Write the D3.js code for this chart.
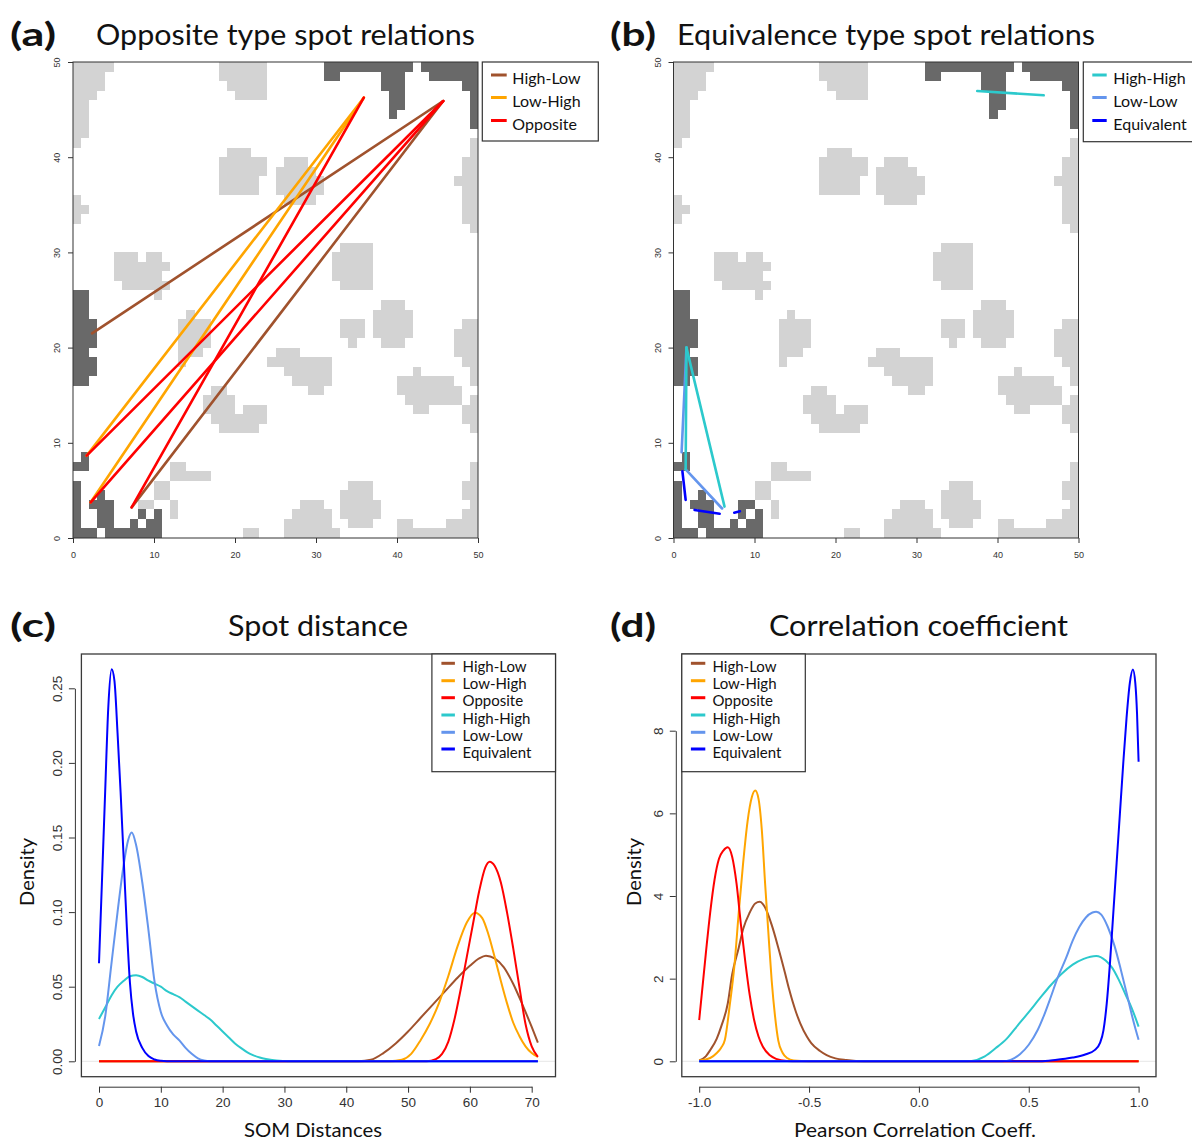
<!DOCTYPE html>
<html>
<head>
<meta charset="utf-8">
<script src="https://cdn.jsdelivr.net/npm/d3@7"></script>
<style>
body { margin: 0; background: #fff; }
text { font-family: Lato, "Open Sans", sans-serif; fill: #111; }
.tick text { font-family: "Liberation Sans", Arial, sans-serif; fill: #333; }
</style>
</head>
<body>
<div id="chart"></div>
<script>

// SOM background map, runs of cells: [row, firstCol, lastCol]
const lightRuns = [
  [49,0,4],[48,0,3],[47,0,3],[46,0,2],[45,0,1],[44,0,1],[43,0,1],[42,0,1],[41,0,0],
  [49,18,23],[48,18,23],[47,19,23],[46,20,23],
  [40,19,21],[39,18,23],[38,18,23],[37,18,22],[36,18,22],
  [39,26,28],[38,25,29],[37,25,30],[36,25,30],[35,26,29],
  [35,0,0],[34,0,1],[33,0,0],
  [41,49,49],[40,49,49],[39,48,49],[38,48,49],[37,47,49],[36,48,49],[35,48,49],[34,48,49],[33,48,49],[32,49,49],
  [29,5,7],[29,9,10],[28,5,11],[27,5,10],[26,6,11],[25,10,10],
  [30,33,36],[29,32,36],[28,32,36],[27,32,36],[26,33,36],
  [24,38,40],[23,37,41],[22,37,41],[21,37,41],[20,38,40],
  [22,33,35],[21,33,35],[20,34,34],
  [23,14,14],[22,13,16],[21,13,16],[20,13,16],[19,13,15],[18,13,13],
  [19,25,27],[18,24,31],[17,26,31],[16,27,31],[15,29,30],
  [17,42,42],[16,40,46],[15,40,47],[14,41,47],[13,42,43],
  [22,48,49],[21,47,49],[20,47,49],[19,47,49],[18,48,49],[17,49,49],[16,49,49],
  [14,49,49],[13,48,49],[12,48,49],[11,49,49],
  [15,17,18],[14,16,19],[13,16,19],[13,21,23],[12,17,23],[11,18,22],
  [7,12,13],[6,12,16],[5,10,11],[4,10,11],[3,12,12],[2,12,12],
  [0,21,22],
  [3,28,30],[2,27,31],[1,26,31],[0,26,32],
  [5,34,36],[4,33,36],[3,33,37],[2,33,37],[1,34,36],
  [7,49,49],[6,49,49],[5,48,49],[4,48,49],[3,49,49],[2,48,49],[1,40,41],[1,46,49],[0,40,49]
];
const darkRuns = [
  [49,31,41],[49,43,49],[48,31,32],[48,38,40],[48,44,49],[47,38,40],[47,48,49],
  [46,39,40],[46,49,49],[45,39,40],[45,49,49],[44,39,39],[44,49,49],[43,49,49],
  [25,0,1],[24,0,1],[23,0,1],[22,0,2],[21,0,2],[20,0,2],[19,0,1],[18,0,2],[17,0,2],[16,0,1],
  [8,1,1],[7,0,1],[5,0,0],[4,0,0],[4,3,3],[3,0,0],[3,2,4],[2,0,0],[2,3,4],[2,8,8],[2,10,10],
  [1,0,0],[1,3,4],[1,7,7],[1,9,10],[0,0,2],[0,4,10]
];
const lightOnlyA = [[3,8,9]];
const darkOnlyB = [[3,8,9]];

// spot pairs: [type, x1, y1, x2, y2] in map units
const oppositeLinks = [
  ["High-Low", 2.35, 21.5, 45.7, 45.9],
  ["High-Low", 7.24, 3.22, 45.7, 45.9],
  ["Low-High", 1.69, 8.65, 35.9, 46.25],
  ["Low-High", 2.18, 3.75, 35.9, 46.25],
  ["Opposite", 1.69, 8.65, 45.7, 45.9],
  ["Opposite", 2.18, 3.75, 45.7, 45.9],
  ["Opposite", 7.24, 3.22, 35.9, 46.25]
];
const equivLinks = [
  ["High-High", 37.5, 46.95, 45.7, 46.5],
  ["Low-Low", 1.0, 9.0, 1.6, 20.0],
  ["Low-Low", 1.5, 7.2, 6.0, 3.1],
  ["High-High", 1.6, 20.0, 1.5, 7.2],
  ["High-High", 1.6, 20.0, 6.3, 3.3],
  ["Equivalent", 1.1, 7.0, 1.5, 4.0],
  ["Equivalent", 2.6, 2.95, 5.7, 2.55],
  ["Equivalent", 7.5, 2.65, 8.2, 2.8]
];

const typeNames = ["High-Low", "Low-High", "Opposite", "High-High", "Low-Low", "Equivalent"];
const typeColors = ["#A0522D", "#FFA500", "#FF0000", "#2CC9CC", "#6495ED", "#0000FF"];

// density of SOM distances
const distHighLow = [[0,0],[42,0],[44,0.001],[46,0.0055],[48,0.012],[50,0.02],[52,0.029],[54,0.038],[56,0.047],[58,0.056],[60,0.064],[61.5,0.069],[62.6,0.0708],[64,0.069],[65.5,0.063],[67,0.052],[68.5,0.038],[70,0.023],[71,0.0125]];
const distLowHigh = [[0,0],[47,0],[49,0.001],[50.5,0.005],[52,0.014],[53.5,0.025],[55,0.039],[56.5,0.057],[58,0.077],[59.5,0.093],[60.8,0.0996],[62,0.096],[63,0.085],[64,0.07],[65,0.054],[66,0.039],[67,0.026],[68,0.017],[69,0.01],[70,0.0055],[71,0.003]];
const distOpposite = [[0,0],[53,0],[54.5,0.0015],[55.5,0.005],[56.5,0.013],[57.5,0.028],[58.5,0.048],[59.5,0.07],[60.5,0.092],[61.5,0.114],[62.5,0.13],[63.2,0.1338],[64,0.131],[65,0.12],[66,0.1],[67,0.076],[68,0.05],[69,0.025],[70,0.01],[71,0.003]];
const distHighHigh = [[0,0.0284],[1,0.036],[2,0.044],[3,0.05],[4,0.054],[5,0.057],[6,0.0576],[7,0.0565],[8,0.054],[9,0.052],[10,0.05],[11,0.047],[12,0.045],[13,0.043],[14,0.04],[15,0.037],[16,0.034],[17,0.031],[18,0.028],[19,0.024],[20,0.02],[21,0.016],[22,0.012],[23,0.0088],[24,0.006],[25,0.004],[26,0.0025],[27,0.0015],[28,0.0008],[30,0.0002],[32,0],[71,0]];
const distLowLow = [[0,0.0103],[1,0.03],[2,0.065],[3,0.1],[4,0.132],[4.7,0.148],[5.3,0.1533],[6,0.145],[7,0.12],[8,0.088],[9,0.053],[10,0.033],[11,0.024],[12,0.018],[13,0.014],[14,0.009],[15,0.005],[16,0.002],[17,0.0005],[18,0],[71,0]];
const distEquivalent = [[0,0.0657],[0.5,0.123],[1,0.181],[1.5,0.237],[2.05,0.2627],[2.5,0.255],[3,0.22],[3.5,0.18],[4,0.135],[4.5,0.09],[5,0.053],[5.5,0.032],[6,0.02],[7,0.009],[8,0.0035],[9,0.0012],[10,0.0003],[11,0],[71,0]];

// density of Pearson correlation coefficients
const corrHighLow = [[-1,0.02],[-0.97,0.12],[-0.95,0.27],[-0.92,0.55],[-0.9,0.84],[-0.87,1.4],[-0.85,2.1],[-0.82,2.75],[-0.8,3.2],[-0.77,3.6],[-0.745,3.82],[-0.724,3.86],[-0.7,3.72],[-0.67,3.3],[-0.64,2.75],[-0.61,2.15],[-0.59,1.73],[-0.56,1.2],[-0.54,0.92],[-0.51,0.6],[-0.49,0.44],[-0.45,0.25],[-0.42,0.15],[-0.38,0.07],[-0.33,0.03],[-0.25,0],[1,0]];
const corrLowHigh = [[-1,0.02],[-0.95,0.08],[-0.92,0.2],[-0.9,0.33],[-0.883,0.52],[-0.86,1.4],[-0.84,2.3],[-0.82,3.6],[-0.8,4.8],[-0.78,5.8],[-0.76,6.4],[-0.745,6.55],[-0.73,6.35],[-0.715,5.6],[-0.7,4.3],[-0.685,3.1],[-0.67,1.95],[-0.655,1.1],[-0.64,0.5],[-0.62,0.2],[-0.6,0.08],[-0.57,0.02],[-0.5,0],[1,0]];
const corrOpposite = [[-1,1.0],[-0.97,2.6],[-0.95,3.6],[-0.93,4.4],[-0.91,4.9],[-0.89,5.1],[-0.87,5.18],[-0.85,4.95],[-0.83,4.3],[-0.81,3.3],[-0.79,2.4],[-0.77,1.6],[-0.75,1.0],[-0.73,0.6],[-0.71,0.35],[-0.68,0.15],[-0.65,0.06],[-0.6,0.01],[-0.55,0],[1,0]];
const corrHighHigh = [[-1,0],[0.2,0],[0.24,0.01],[0.3,0.12],[0.35,0.32],[0.4,0.55],[0.45,0.87],[0.5,1.19],[0.55,1.52],[0.6,1.84],[0.65,2.12],[0.7,2.34],[0.75,2.48],[0.807,2.55],[0.85,2.44],[0.88,2.26],[0.91,1.97],[0.94,1.62],[0.97,1.27],[1,0.84]];
const corrLowLow = [[-1,0],[0.38,0],[0.42,0.04],[0.46,0.17],[0.5,0.4],[0.54,0.75],[0.57,1.12],[0.6,1.55],[0.63,2.0],[0.67,2.5],[0.7,2.92],[0.73,3.25],[0.76,3.48],[0.79,3.6],[0.807,3.62],[0.83,3.55],[0.86,3.25],[0.89,2.8],[0.92,2.2],[0.95,1.55],[0.975,1.0],[1,0.52]];
const corrEquivalent = [[-1,0],[0.55,0],[0.62,0.03],[0.7,0.09],[0.76,0.17],[0.8,0.27],[0.825,0.45],[0.84,0.75],[0.855,1.4],[0.87,2.4],[0.885,3.6],[0.9,4.8],[0.915,6.0],[0.93,7.2],[0.945,8.3],[0.96,9.15],[0.974,9.48],[0.985,9.15],[0.993,8.4],[1,7.25]];

const distSeries = [distHighLow, distLowHigh, distOpposite, distHighHigh, distLowLow, distEquivalent];
const corrSeries = [corrHighLow, corrLowHigh, corrOpposite, corrHighHigh, corrLowLow, corrEquivalent];

const mapTicks = [0, 10, 20, 30, 40, 50];
const distXTicks = [0, 10, 20, 30, 40, 50, 60, 70];
const distYTicks = [0, 0.05, 0.1, 0.15, 0.2, 0.25];
const corrXTicks = [-1, -0.5, 0, 0.5, 1];
const corrYTicks = [0, 2, 4, 6, 8];

const color = d3.scaleOrdinal().domain(typeNames).range(typeColors);

const svg = d3.select("#chart").append("svg")
    .attr("width", 1192)
    .attr("height", 1140);

function legend(x, y, w, h, names, lx0, lx1, tx, rows, fs) {
  let g = svg.append("g");
  g.append("rect").attr("x", x).attr("y", y).attr("width", w).attr("height", h)
    .attr("fill", "#fff").attr("stroke", "#333").attr("stroke-width", 1.2);
  names.forEach((n, i) => {
    g.append("line").attr("x1", lx0).attr("x2", lx1).attr("y1", rows[i]).attr("y2", rows[i])
      .attr("stroke", color(n)).attr("stroke-width", 3);
    g.append("text").attr("x", tx).attr("y", rows[i] + 3.5).attr("dy", "0.35em")
      .attr("font-size", fs).text(n);
  });
}

function drawMap(left, light, dark, links) {
  let x = d3.scaleLinear().domain([0, 50]).range([left, left + 405]);
  let y = d3.scaleLinear().domain([0, 50]).range([538, 62]);
  let g = svg.append("g");
  let cells = g.append("g").attr("shape-rendering", "crispEdges");
  const addRuns = (runs, fill) => cells.append("g").selectAll("rect").data(runs).enter().append("rect")
      .attr("x", d => x(d[1]))
      .attr("y", d => y(d[0] + 1))
      .attr("width", d => x(d[2] + 1) - x(d[1]))
      .attr("height", d => y(d[0]) - y(d[0] + 1))
      .attr("fill", fill);
  addRuns(light, "#d3d3d3");
  addRuns(dark, "#696969");

  g.append("g").selectAll("line").data(links).enter().append("line")
    .attr("x1", d => x(d[1])).attr("y1", d => y(d[2]))
    .attr("x2", d => x(d[3])).attr("y2", d => y(d[4]))
    .attr("stroke", d => color(d[0]))
    .attr("stroke-width", 2.6)
    .attr("stroke-linecap", "round");

  g.append("rect").attr("x", x(0)).attr("y", y(50)).attr("width", x(50) - x(0)).attr("height", y(0) - y(50))
    .attr("fill", "none").attr("stroke", "#333").attr("stroke-width", 1);

  let ax = g.append("g").attr("transform", "translate(0,538)")
    .call(d3.axisBottom(x).tickValues(mapTicks).tickSize(5).tickSizeOuter(0).tickPadding(9));
  ax.select(".domain").remove();
  ax.selectAll("text").attr("font-size", 9);
  let ay = g.append("g").attr("transform", `translate(${left},0)`)
    .call(d3.axisLeft(y).tickValues(mapTicks).tickSize(5).tickSizeOuter(0));
  ay.select(".domain").remove();
  ay.selectAll("text").attr("font-size", 9).attr("x", 0).attr("dy", 0)
    .attr("text-anchor", "middle").attr("transform", "translate(-13,0) rotate(-90)");
  g.selectAll(".tick line").attr("stroke", "#333");
}

function densityPanel(o) {
  let x = d3.scaleLinear().domain(o.xDomain).range(o.xRange);
  let y = d3.scaleLinear().domain(o.yDomain).range(o.yRange);
  let g = svg.append("g");

  g.append("line").attr("x1", o.box[0]).attr("x2", o.box[2]).attr("y1", y(0)).attr("y2", y(0))
    .attr("stroke", "#e6e6e6").attr("stroke-width", 1);

  let line = d3.line().x(d => x(d[0])).y(d => y(d[1])).curve(d3.curveMonotoneX);
  g.append("g").selectAll("path").data(o.series).enter().append("path")
    .attr("d", line)
    .attr("fill", "none")
    .attr("stroke", (d, i) => color(typeNames[i]))
    .attr("stroke-width", 2);

  g.append("rect").attr("x", o.box[0]).attr("y", o.box[1])
    .attr("width", o.box[2] - o.box[0]).attr("height", o.box[3] - o.box[1])
    .attr("fill", "none").attr("stroke", "#3a3a3a").attr("stroke-width", 1.3);

  let ax = g.append("g").attr("transform", "translate(0,1086.7)")
    .call(d3.axisBottom(x).tickValues(o.xTicks).tickSize(6).tickSizeOuter(0).tickPadding(4.5)
      .tickFormat(o.xFormat));
  ax.selectAll("text").attr("font-size", 13.5);
  let ay = g.append("g").attr("transform", `translate(${o.yAxisX},0)`)
    .call(d3.axisLeft(y).tickValues(o.yTicks).tickSize(6).tickSizeOuter(0).tickFormat(o.yFormat));
  ay.selectAll("text").attr("font-size", 13.5).attr("x", 0).attr("dy", 0)
    .attr("text-anchor", "middle").attr("transform", "translate(-12.5,0) rotate(-90)");
  g.selectAll(".domain, .tick line").attr("stroke", "#333");

  g.append("text").attr("x", o.xLabel[1]).attr("y", 1137).attr("font-size", 20)
    .attr("textLength", o.xLabel[2]).attr("lengthAdjust", "spacingAndGlyphs").text(o.xLabel[0]);
  g.append("text").attr("transform", `translate(${o.yLabelX},872) rotate(-90)`)
    .attr("text-anchor", "middle").attr("font-size", 20)
    .attr("textLength", 68).attr("lengthAdjust", "spacingAndGlyphs").text("Density");
}

function title(tag, tx, text, x, y, len) {
  svg.append("text").attr("x", tx).attr("y", y).attr("font-size", 32).attr("font-weight", "bold")
    .attr("textLength", 46).attr("lengthAdjust", "spacingAndGlyphs").text(tag);
  svg.append("text").attr("x", x).attr("y", y - 1).attr("font-size", 28)
    .attr("textLength", len).attr("lengthAdjust", "spacingAndGlyphs").text(text);
}

// (a) and (b) maps
drawMap(73, lightRuns.concat(lightOnlyA), darkRuns, oppositeLinks);
drawMap(673.5, lightRuns, darkRuns.concat(darkOnlyB), equivLinks);
legend(482.3, 62, 116, 79, typeNames.slice(0, 3), 491, 506.7, 512.3, [75, 97.5, 120.5], 16);
legend(1083.3, 62, 120, 79.7, typeNames.slice(3), 1092.3, 1106.7, 1113.3, [75, 97.5, 120.5], 16);

// (c) distances, (d) correlations
densityPanel({
  xDomain: [0, 70], xRange: [99, 531.7], yDomain: [0, 0.25], yRange: [1061.3, 688.3],
  box: [81.4, 654, 555.5, 1076.7], yAxisX: 74.9, series: distSeries,
  xTicks: distXTicks, yTicks: distYTicks, xFormat: d => d, yFormat: d => d.toFixed(2),
  xLabel: ["SOM Distances", 244, 138], yLabelX: 34
});
densityPanel({
  xDomain: [-1, 1], xRange: [699.2, 1138.6], yDomain: [0, 8], yRange: [1061.3, 730.7],
  box: [681.8, 654, 1156, 1076.7], yAxisX: 675.8, series: corrSeries,
  xTicks: corrXTicks, yTicks: corrYTicks, xFormat: d => d.toFixed(1), yFormat: d => d,
  xLabel: ["Pearson Correlation Coeff.", 794, 242], yLabelX: 641
});
legend(431.9, 654, 123.6, 117.7, typeNames, 441.4, 454.9, 462.6, [663.3, 680.7, 697.7, 715, 732.3, 749], 15);
legend(681.8, 654, 123.5, 117.7, typeNames, 690.9, 705.3, 712.5, [663.3, 680.7, 697.7, 715, 732.3, 749], 15);

title("(a)", 10, "Opposite type spot relations", 96, 46, 379);
title("(b)", 610, "Equivalence type spot relations", 677, 46, 418);
title("(c)", 10, "Spot distance", 228, 637, 180);
title("(d)", 610, "Correlation coefficient", 769, 637, 299);

</script>
</body>
</html>
